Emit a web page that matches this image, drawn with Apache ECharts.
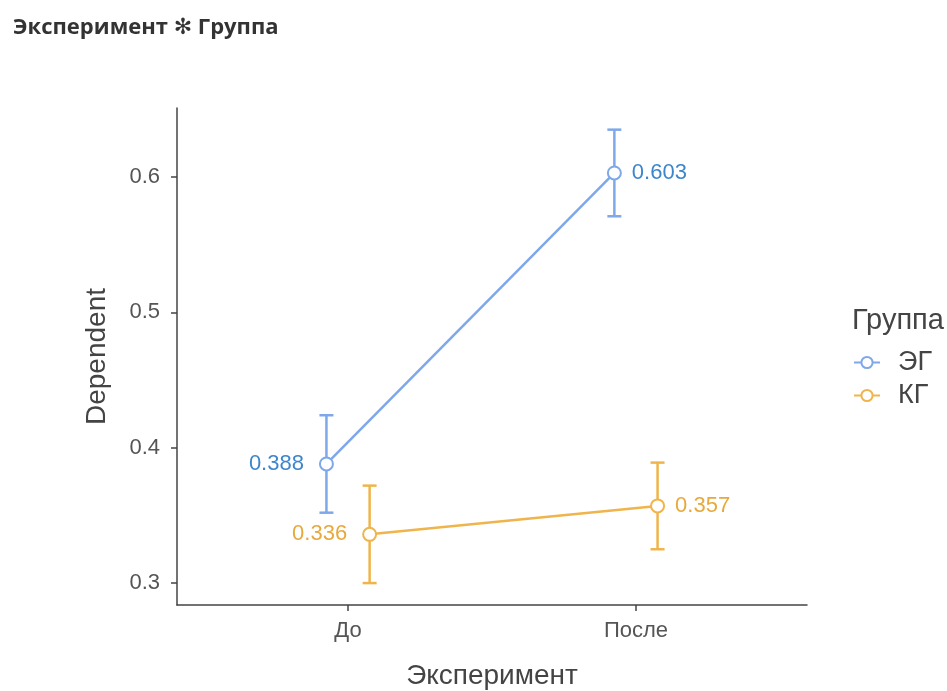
<!DOCTYPE html>
<html>
<head>
<meta charset="utf-8">
<script src="https://cdn.jsdelivr.net/npm/echarts@6/dist/echarts.min.js"></script>
<style>
  html, body { margin: 0; padding: 0; background: #fff; }
  #chart { width: 947px; height: 691px; }
</style>
</head>
<body>
<div id="chart"></div>
<script>
// Estimated marginal means of Dependent by Эксперимент and Группа
const phases = ['До', 'После'];
const groups = ['ЭГ', 'КГ'];

const egMean  = [0.388, 0.603];
const egLower = [0.352, 0.571];
const egUpper = [0.424, 0.635];

const kgMean  = [0.336, 0.357];
const kgLower = [0.300, 0.325];
const kgUpper = [0.372, 0.389];

const yTicks = [0.3, 0.4, 0.5, 0.6];

const colors = ['#7ea8ea', '#efb54c'];
const labelColors = ['#3e86cc', '#e8a93c'];
const dodge = [-0.075, 0.075];
const font = "'Liberation Sans', Arial, sans-serif";

const groupData = [
  { name: groups[0], mean: egMean, lo: egLower, hi: egUpper },
  { name: groups[1], mean: kgMean, lo: kgLower, hi: kgUpper }
];

const series = [];
groupData.forEach((g, gi) => {
  // means joined by a line
  series.push({
    type: 'line',
    name: g.name,
    z: 3,
    symbol: 'circle',
    symbolSize: 13,
    itemStyle: { color: '#fff', borderColor: colors[gi], borderWidth: 2 },
    lineStyle: { color: colors[gi], width: 2.5 },
    data: phases.map((p, i) => ({
      value: [i + 1 + dodge[gi], g.mean[i]],
      label: i === 0 ? { position: 'left', distance: 15 } : { position: 'right', distance: 10 }
    })),
    label: {
      show: true,
      color: labelColors[gi],
      fontSize: 22,
      letterSpacing: 0.6,
      fontFamily: font,
      formatter: (p) => p.value[1].toFixed(3)
    }
  });
  // error bars with caps
  series.push({
    type: 'custom',
    name: g.name + '-ci',
    z: 2,
    silent: true,
    data: phases.map((p, i) => [i + 1 + dodge[gi], g.lo[i], g.hi[i]]),
    renderItem: (params, api) => {
      const lo = api.coord([api.value(0), api.value(1)]);
      const hi = api.coord([api.value(0), api.value(2)]);
      const cap = 7;
      const style = { stroke: colors[gi], lineWidth: 2.5 };
      return {
        type: 'group',
        children: [
          { type: 'line', shape: { x1: lo[0], y1: lo[1], x2: hi[0], y2: hi[1] }, style },
          { type: 'line', shape: { x1: lo[0] - cap, y1: lo[1], x2: lo[0] + cap, y2: lo[1] }, style },
          { type: 'line', shape: { x1: hi[0] - cap, y1: hi[1], x2: hi[0] + cap, y2: hi[1] }, style }
        ]
      };
    }
  });
});

const chart = echarts.init(document.getElementById('chart'));
chart.setOption({
  animation: false,
  backgroundColor: '#fff',
  title: {
    text: 'Эксперимент ✻ Группа',
    left: 8,
    top: 12,
    textStyle: { fontFamily: "'Open Sans', 'DejaVu Sans', sans-serif", fontWeight: 'bold', fontSize: 22, color: '#333' }
  },
  grid: { left: 177, right: 140, top: 108, bottom: 86, outerBoundsMode: 'none', containLabel: false },
  legend: {
    data: groups,
    orient: 'vertical',
    left: 853,
    top: 349,
    padding: 0,
    itemGap: 6,
    itemWidth: 26,
    itemHeight: 14,
    textStyle: { fontSize: 27, color: '#444', fontFamily: font, padding: [0, 0, 0, 13] },
    selectedMode: false
  },
  graphic: [{
    type: 'text',
    x: 852,
    y: 321,
    style: { text: 'Группа', fontSize: 29, fill: '#444', fontFamily: font, textVerticalAlign: 'middle' }
  }],
  xAxis: {
    type: 'value',
    min: 0.406,
    max: 2.594,
    name: 'Эксперимент',
    nameLocation: 'middle',
    nameGap: 57,
    nameTextStyle: { fontSize: 28, color: '#444', fontFamily: font },
    axisLine: { lineStyle: { color: '#444', width: 1.5 } },
    axisTick: { show: true, length: 6, lineStyle: { color: '#444', width: 1.5 }, customValues: [1, 2] },
    axisLabel: {
      customValues: [1, 2],
      formatter: (v) => phases[Math.round(v) - 1],
      fontSize: 22, color: '#555', margin: 15, fontFamily: font
    },
    splitLine: { show: false }
  },
  yAxis: {
    type: 'value',
    min: 0.2838,
    max: 0.651,
    name: 'Dependent',
    nameLocation: 'middle',
    nameGap: 66,
    nameTextStyle: { fontSize: 28, color: '#444', fontFamily: font },
    axisLine: { show: true, lineStyle: { color: '#444', width: 1.5 } },
    axisTick: { show: true, length: 6, lineStyle: { color: '#444', width: 1.5 }, customValues: yTicks },
    axisLabel: {
      customValues: yTicks,
      formatter: (v) => v.toFixed(1),
      fontSize: 22, color: '#555', margin: 17, fontFamily: font
    },
    splitLine: { show: false }
  },
  series
});
</script>
</body>
</html>
